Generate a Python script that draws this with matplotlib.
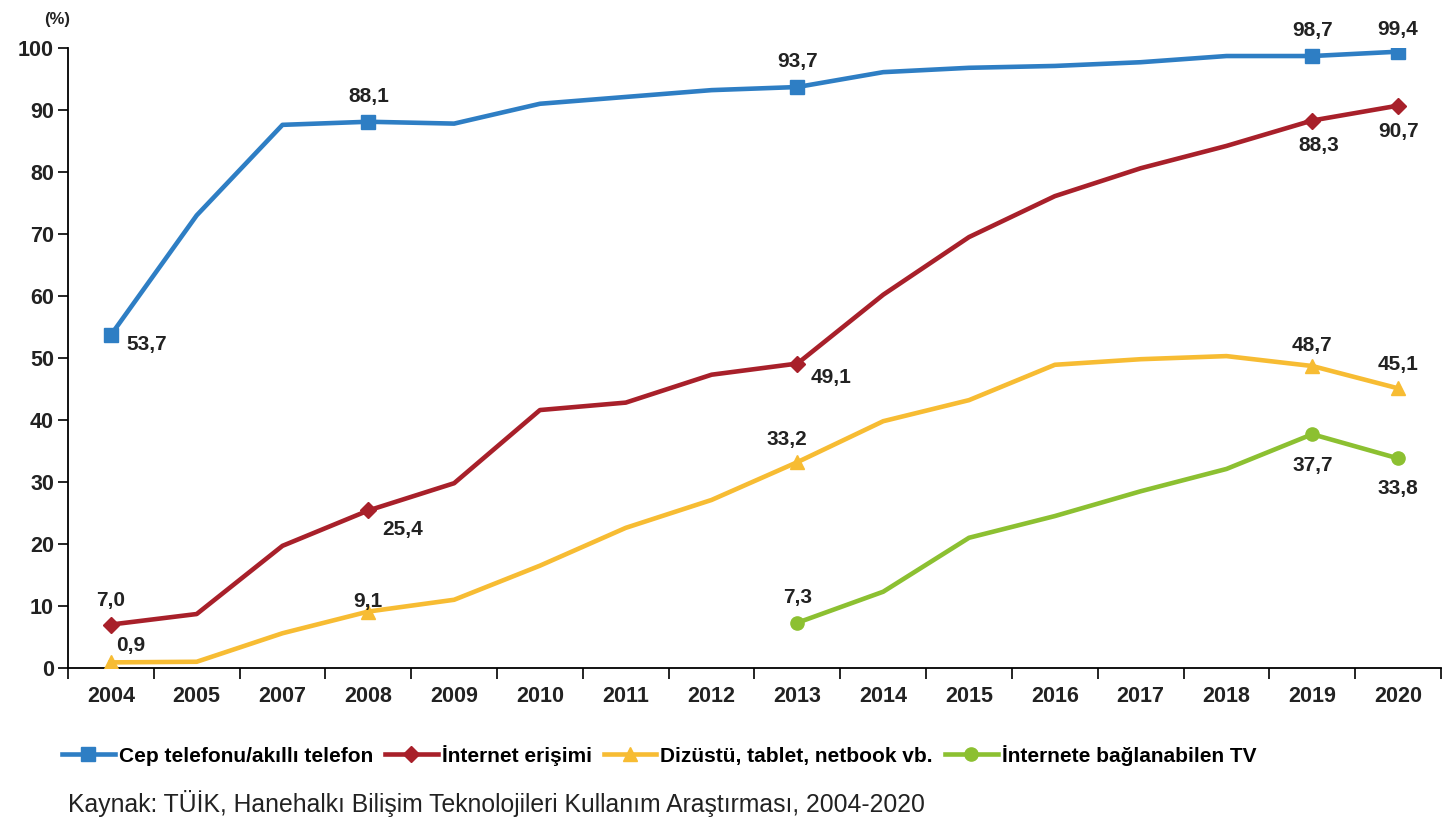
import matplotlib
matplotlib.use("Agg")
import matplotlib.pyplot as plt
from matplotlib.lines import Line2D

plt.rcParams['font.family'] = ['Liberation Sans', 'DejaVu Sans']

years = ["2004", "2005", "2007", "2008", "2009", "2010", "2011", "2012",
         "2013", "2014", "2015", "2016", "2017", "2018", "2019", "2020"]
cep = [53.7, 73.0, 87.6, 88.1, 87.8, 91.0, 92.1, 93.2, 93.7, 96.1, 96.8, 97.1, 97.7, 98.7, 98.7, 99.4]
internet = [7.0, 8.7, 19.7, 25.4, 29.8, 41.6, 42.8, 47.3, 49.1, 60.2, 69.5, 76.1, 80.6, 84.2, 88.3, 90.7]
dizustu = [0.9, 1.0, 5.6, 9.1, 11.0, 16.5, 22.6, 27.1, 33.2, 39.8, 43.2, 48.9, 49.8, 50.3, 48.7, 45.1]
tv_years = ["2013", "2014", "2015", "2016", "2017", "2018", "2019", "2020"]
tv = [7.3, 12.3, 21.0, 24.5, 28.5, 32.1, 37.7, 33.8]

labels = ["Cep telefonu/akıllı telefon", "İnternet erişimi",
          "Dizüstü, tablet, netbook vb.", "İnternete bağlanabilen TV"]
colors = ["#2E7EC4", "#A8202A", "#F7BC33", "#8CC031"]
markers = ["s", "D", "^", "o"]

fig = plt.figure(figsize=(14.49, 8.27), dpi=100)
ax = fig.add_axes([0.0469, 0.1923, 0.9476, 0.7497])

x = list(range(len(years)))
xtv = [years.index(y) for y in tv_years]
mk_main = [0, 3, 8, 14, 15]
mk_tv = [0, 6, 7]

series = [(x, cep, mk_main), (x, internet, mk_main), (x, dizustu, mk_main), (xtv, tv, mk_tv)]
msizes = [10, 8.5, 10.5, 9.5]
for (xs, ys, me), c, m, ms in zip(series, colors, markers, msizes):
    ax.plot(xs, ys, color=c, lw=3.3, marker=m, markersize=ms, markevery=me,
            solid_joinstyle='round', zorder=3)

def lab(xi, yv, dx, dy):
    ax.annotate(f"{yv:.1f}".replace(".", ","), (xi, yv), xytext=(dx, dy),
                textcoords='offset pixels', ha='center', va='center',
                fontsize=15, fontweight='bold', color='#222222', zorder=4)

# blue
lab(0, cep[0], 36, -9)
lab(3, cep[3], 0, 25)
lab(8, cep[8], 0, 26)
lab(14, cep[14], 0, 26)
lab(15, cep[15], 0, 22)
# red
lab(0, internet[0], 0, 24)
lab(3, internet[3], 34, -19)
lab(8, internet[8], 34, -14)
lab(14, internet[14], 6, -25)
lab(15, internet[15], 0, -26)
# yellow
lab(0, dizustu[0], 20, 17)
lab(3, dizustu[3], 0, 10)
lab(8, dizustu[8], -11, 23)
lab(14, dizustu[14], 0, 21)
lab(15, dizustu[15], 0, 24)
# green
lab(xtv[0], tv[0], 0, 25)
lab(xtv[6], tv[6], 0, -31)
lab(xtv[7], tv[7], 0, -30)

ax.set_xlim(-0.5, len(years) - 0.5)
ax.set_ylim(0, 100)
ax.set_yticks(range(0, 101, 10))
ax.set_xticks([i - 0.5 for i in range(len(years) + 1)])
ax.set_xticklabels([])
ax.set_xticks(x, minor=True)
ax.set_xticklabels(years, minor=True)
ax.tick_params(axis='x', which='major', length=8, width=1.2, direction='out')
ax.tick_params(axis='x', which='minor', length=0, pad=13, labelsize=15.5)
ax.tick_params(axis='y', length=7, width=1.2, labelsize=15.5, pad=3)
for t in ax.get_xticklabels(minor=True) + ax.get_yticklabels():
    t.set_fontweight('bold')
    t.set_color('#222222')
for s in ['top', 'right']:
    ax.spines[s].set_visible(False)
for s in ['left', 'bottom']:
    ax.spines[s].set_linewidth(1.3)

fig.text(0.0393, 0.976, "(%)", fontsize=12, fontweight='bold', ha='center', va='center', color='#222222')

handles = [Line2D([0], [0], color=c, lw=3.3, marker=m, markersize=ms)
           for c, m, ms in zip(colors, markers, msizes)]
fig.legend(handles, labels, loc='center', bbox_to_anchor=(0.455, 0.087), ncol=4,
           frameon=False, prop={'size': 15, 'weight': 'bold'}, handlelength=2.5,
           handletextpad=0.2, columnspacing=0.6)

fig.text(0.047, 0.029, "Kaynak: TÜİK, Hanehalkı Bilişim Teknolojileri Kullanım Araştırması, 2004-2020",
         fontsize=17.8, ha='left', va='center', color='#222222')

fig.savefig("out.png", dpi=100)
